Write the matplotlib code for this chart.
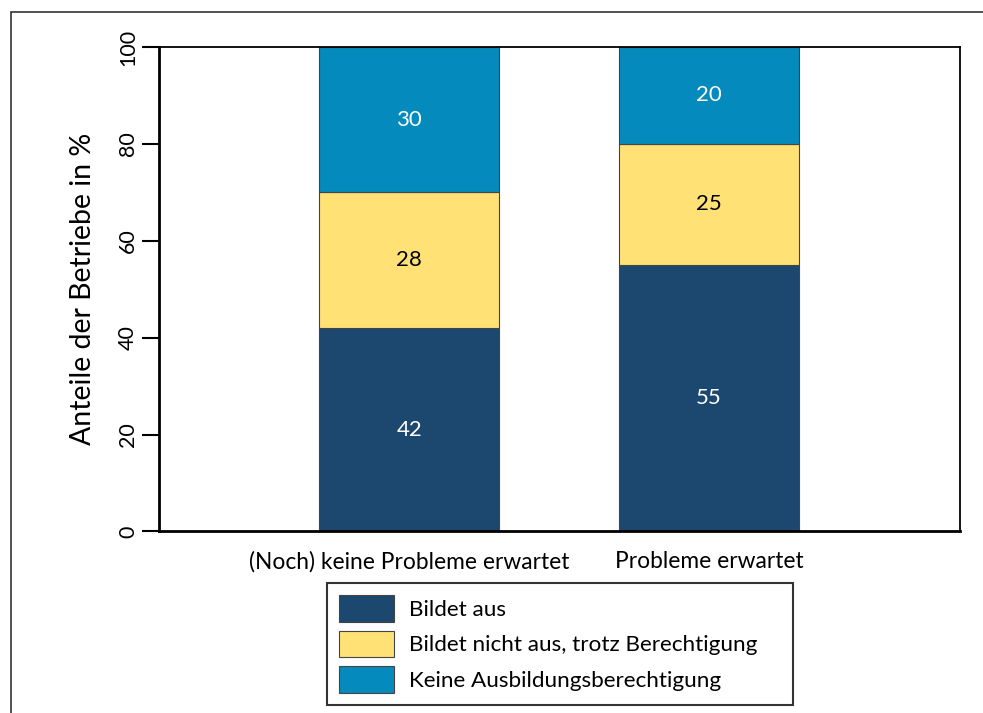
import matplotlib
matplotlib.use('Agg')
import numpy as np
import matplotlib.pyplot as plt
from matplotlib.patches import Rectangle

categories = ['(Noch) keine Probleme erwartet', 'Probleme erwartet']
series_names = ['Bildet aus', 'Bildet nicht aus, trotz Berechtigung',
                'Keine Ausbildungsberechtigung']
bildet_aus = [42, 55]
nicht_aus = [28, 25]
keine_ber = [30, 20]
yticks = [0, 20, 40, 60, 80, 100]

C_NAVY = '#1c4870'
C_YELL = '#ffe176'
C_BLUE = '#048abd'
EDGE = '#444444'

plt.rcParams['font.family'] = ['Lato', 'DejaVu Sans']

fig = plt.figure(figsize=(9.83, 7.13), dpi=100)
ax = fig.add_axes([0.1617, 0.2546, 0.815, 0.6794])

# outer frame (cut at right/bottom like the reference)
fig.patches.append(Rectangle((0.0112, -0.05), 1.2, 0.9832 + 0.05,
                             transform=fig.transFigure, fill=False,
                             edgecolor='#333333', lw=1.2, zorder=0))

x = np.arange(len(categories))
w = 0.6
series = [bildet_aus, nicht_aus, keine_ber]
colors = [C_NAVY, C_YELL, C_BLUE]
txtcol = ['white', 'black', 'white']
bottom = np.zeros(len(categories))
for vals, name, col, tc in zip(series, series_names, colors, txtcol):
    vals = np.array(vals, dtype=float)
    ax.bar(x, vals, w, bottom=bottom, color=col, edgecolor=EDGE, lw=0.8,
           label=name)
    for xi, b, v in zip(x, bottom, vals):
        ax.text(xi, b + v / 2, f'{v:.0f}', ha='center', va='center',
                fontsize=16, color=tc)
    bottom += vals

ax.set_xlim(-0.835, 1.837)
ax.set_ylim(0, 100)
ax.set_yticks(yticks)
ax.set_yticklabels([str(t) for t in yticks], rotation=90, va='center',
                   fontsize=15.5)
ax.set_xticks(x)
ax.set_xticklabels(categories, fontsize=16.4)
ax.tick_params(axis='x', length=0, pad=14)
ax.tick_params(axis='y', length=12, width=1.5, pad=3)
ax.set_ylabel('Anteile der Betriebe in %', fontsize=20.5, labelpad=16)
for s in ['left', 'bottom']:
    ax.spines[s].set_linewidth(2)
for s in ['top', 'right']:
    ax.spines[s].set_linewidth(1.3)

leg = fig.legend(loc='upper left', bbox_to_anchor=(0.3327, 0.0, 0.4741, 0.1823),
                 bbox_transform=fig.transFigure, mode='expand', fontsize=16.2,
                 frameon=True, fancybox=False, edgecolor='black',
                 handlelength=2.44, handleheight=1.45, labelspacing=0.38,
                 handletextpad=0.65, borderpad=0.55, borderaxespad=0)
leg.get_frame().set_linewidth(1.5)

fig.savefig('out.png', dpi=100)
